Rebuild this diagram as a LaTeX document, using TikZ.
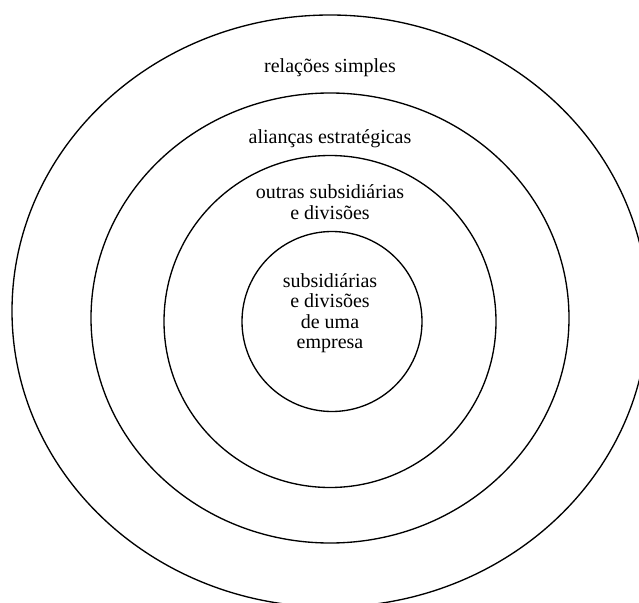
\documentclass[tikz,border=0pt]{standalone}
\usepackage{fontspec}
\setmainfont{Liberation Serif}
\begin{document}
\begin{tikzpicture}[x=0.75pt,y=-0.75pt,
  ring/.style={line width=1pt,draw=black},
  label/.style={font=\fontsize{15}{15.4}\selectfont,align=center,inner sep=0pt}]
\useasboundingbox (0,0) rectangle (639,603);
\clip (0,0) rectangle (639,603);
% concentric rings, outermost first
\draw[ring] (330,311) ellipse [x radius=318, y radius=296];
\draw[ring] (330,318) ellipse [x radius=239, y radius=225];
\draw[ring] (330,321.5) circle [radius=166];
\draw[ring] (332,321.5) circle [radius=90];
% ring labels
\node[label,anchor=base] (simples) at (330,72) {relações simples};
\node[label,anchor=base] (aliancas) at (330,143) {alianças estratégicas};
\node[label,anchor=center] (outras) at (330,202) {outras subsidiárias\\e divisões};
\node[label,anchor=center] (empresa) at (330,313) {subsidiárias\\e divisões\\de uma\\empresa};
\end{tikzpicture}
\end{document}
